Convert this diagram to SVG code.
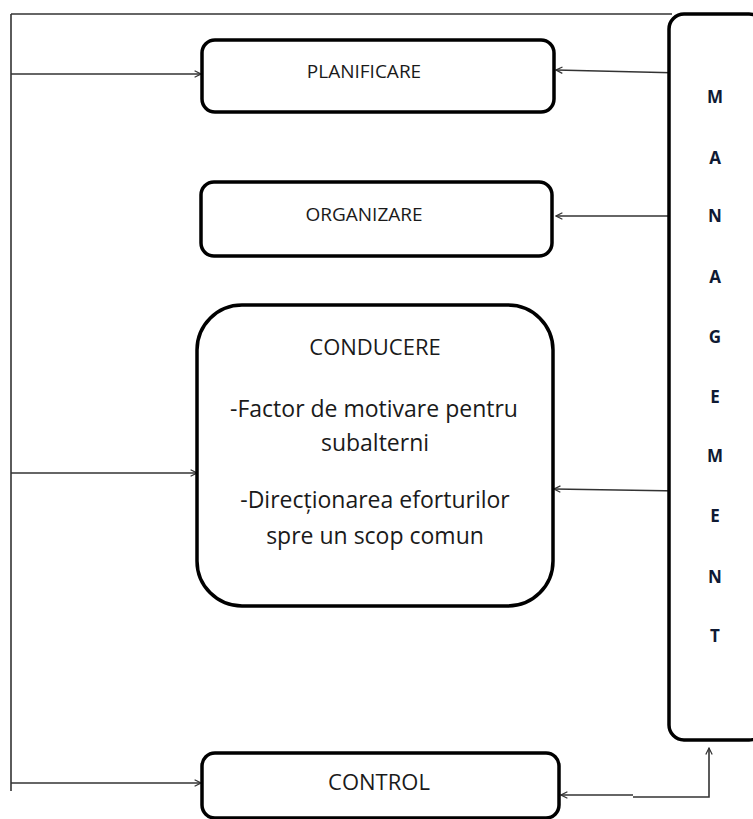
<svg xmlns="http://www.w3.org/2000/svg" width="753" height="819" viewBox="0 0 753 819">
<style>
.box{fill:#fff;stroke:#000;stroke-width:3.5}
.t{font-family:"Open Sans","Liberation Sans",sans-serif;font-size:19px;fill:#1a1a1a;text-anchor:middle}
.tb{font-family:"Open Sans","Liberation Sans",sans-serif;font-size:22px;fill:#1a1a1a;text-anchor:middle}
.tc{font-family:"Open Sans","Liberation Sans",sans-serif;font-size:23px;fill:#1a1a1a;text-anchor:middle}
.m{font-family:"Open Sans","Liberation Sans",sans-serif;font-size:17px;font-weight:bold;fill:#0f1a33;text-anchor:middle}
.c{fill:none;stroke:#333;stroke-width:1.6}
</style>
<defs>
<marker id="ah" viewBox="0 0 10 10" refX="9" refY="5" markerWidth="8" markerHeight="8" markerUnits="userSpaceOnUse" orient="auto">
<path d="M1,1 L9,5 L1,9" fill="none" stroke="#333" stroke-width="1.5"/>
</marker>
</defs>
<g id="connectors">
<path class="c" d="M11,14 H672"/>
<path class="c" d="M11,14 V791"/>
<path class="c" d="M11,74 H201" marker-end="url(#ah)"/>
<path class="c" d="M682,73 L556,70" marker-end="url(#ah)"/>
<path class="c" d="M669,216 H556" marker-end="url(#ah)"/>
<path class="c" d="M11,473 H197" marker-end="url(#ah)"/>
<path class="c" d="M680,491 L554,489" marker-end="url(#ah)"/>
<path class="c" d="M11,783 H201" marker-end="url(#ah)"/>
<path class="c" d="M633,797 H709 V748" marker-end="url(#ah)"/>
<path class="c" d="M633,795 H561" marker-end="url(#ah)"/>
</g>
<g id="management">
<rect class="box" x="669" y="14" width="95" height="726" rx="15"/>
<text class="m" x="715" y="103">M</text>
<text class="m" x="715" y="164">A</text>
<text class="m" x="715" y="222">N</text>
<text class="m" x="715" y="283">A</text>
<text class="m" x="715" y="343">G</text>
<text class="m" x="715" y="403">E</text>
<text class="m" x="715" y="462">M</text>
<text class="m" x="715" y="522">E</text>
<text class="m" x="715" y="583">N</text>
<text class="m" x="715" y="642">T</text>
</g>
<g id="planificare">
<rect class="box" x="202" y="40" width="352" height="72" rx="13"/>
<text class="t" x="364" y="78">PLANIFICARE</text>
</g>
<g id="organizare">
<rect class="box" x="201" y="182" width="351" height="74" rx="13"/>
<text class="t" x="364" y="221">ORGANIZARE</text>
</g>
<g id="conducere">
<rect class="box" x="197" y="305" width="356" height="301" rx="45"/>
<text class="tb" x="375" y="355">CONDUCERE</text>
<text class="tc" x="374" y="417">-Factor de motivare pentru</text>
<text class="tc" x="375" y="451">subalterni</text>
<text class="tc" x="375" y="508">-Direcționarea eforturilor</text>
<text class="tc" x="375" y="544">spre un scop comun</text>
</g>
<g id="control">
<rect class="box" x="202" y="753" width="357" height="65" rx="13"/>
<text class="tb" x="379" y="790">CONTROL</text>
</g>
</svg>
